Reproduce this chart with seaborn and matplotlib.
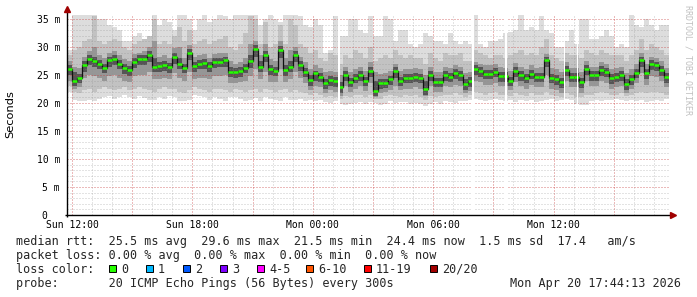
import numpy as np
import pandas as pd
import matplotlib
matplotlib.use("Agg")
import matplotlib.pyplot as plt
import seaborn as sns
from matplotlib.ticker import MultipleLocator, FuncFormatter
from matplotlib.patches import Rectangle

# ---------------- data ----------------
start_hour = 11.75      # Sun 11:45
step_hours = 0.25       # 15 minute bins

median_ms = [
    26.0, 24.0, 24.5, 26.8, 27.8, 27.5, 27.0, 26.3, 27.6, 27.8,
    27.0, 26.2, 25.9, 27.3, 27.8, 27.8, 28.6, 26.5, 26.6, 26.8,
    26.4, 28.2, 27.0, 26.3, 28.9, 26.6, 27.0, 27.1, 26.6, 27.3,
    27.4, 27.6, 25.6, 25.5, 25.7, 26.3, 27.5, 29.6, 26.5, 28.5,
    26.0, 25.8, 29.4, 25.9, 26.5, 28.5, 26.8, 25.6, 24.1, 25.3,
    24.7, 23.5, 24.1, 23.9, 22.8, 25.0, 23.8, 24.5, 25.0, 24.0,
    25.7, 22.2, 23.5, 23.6, 24.2, 25.8, 24.0, 24.5, 24.5, 24.7,
    24.5, 22.5, 25.0, 23.8, 23.8, 25.0, 24.7, 25.3, 25.0, 23.4,
    23.9, 26.0, 25.7, 25.2, 25.2, 25.6, 24.8, 24.8, 24.0, 25.7,
    25.0, 24.5, 25.2, 24.7, 24.7, 27.6, 24.5, 24.3, 23.7, 25.9,
    24.7, 24.7, 23.7, 26.0, 25.0, 25.0, 25.9, 25.6, 24.4, 24.7,
    25.0, 23.4, 24.3, 25.4, 27.6, 25.3, 26.9, 26.7, 25.9, 24.6]

# outer smoke (lightest)
smoke_hi1 = [
    29.5, 36, 36, 36, 36, 36, 35, 35, 34, 33.5,
    33, 31, 31, 32, 32.5, 31.5, 31, 36, 34, 35,
    34.5, 33, 36, 36, 35, 33, 35, 36, 34.5, 35,
    36, 35.5, 35, 36, 36, 36, 36, 36, 34, 35,
    36, 35, 34.5, 36, 36, 36, 35.5, 34, 33.5, 35,
    34, 29, 29.5, 35.5, 32, 32, 35, 35, 33, 32.5,
    35.5, 32, 32, 35.5, 35, 31, 33, 33, 30.5, 30,
    30.5, 32.5, 32, 31, 31, 30.5, 32.5, 31, 30.5, 31,
    30.5, 35.7, 30.5, 30, 31, 31, 31.5, 32.5, 32.7, 33,
    35.7, 33, 33.5, 33, 35.5, 33, 32.5, 30, 30, 31,
    33, 30.5, 35, 35, 31.5, 31.5, 32, 33, 32, 30,
    30.5, 30, 35.7, 34, 33.5, 35, 34, 33, 34, 34]
smoke_lo1 = [
    22.0, 20.5, 20.3, 20.3, 20.6, 20.3, 20.8, 21.0, 21.3, 20.8,
    21.0, 21.5, 21.0, 20.8, 21.2, 20.9, 20.5, 20.5, 21.0, 20.7,
    21.2, 21.0, 20.3, 20.3, 20.5, 21.4, 21.2, 21.0, 20.6, 21.0,
    20.8, 20.4, 21.0, 21.0, 20.8, 20.3, 20.5, 20.9, 20.4, 21.0,
    20.8, 20.5, 20.3, 21.0, 20.6, 20.5, 20.8, 20.4, 20.5, 20.3,
    20.6, 20.2, 20.0, 20.3, 19.8, 19.7, 19.8, 20.0, 20.1, 19.9,
    20.2, 20.0, 19.6, 19.9, 20.3, 20.0, 20.1, 20.2, 19.8, 20.0,
    19.8, 19.5, 19.8, 20.2, 19.9, 20.4, 20.2, 20.0, 20.3, 20.4,
    20.5, 20.7, 20.5, 20.3, 20.5, 20.7, 20.6, 20.4, 20.5, 20.2,
    20.5, 20.4, 20.6, 20.1, 20.3, 20.5, 20.8, 20.4, 20.5, 20.7,
    20.6, 19.8, 19.6, 19.7, 20.4, 20.6, 20.3, 20.5, 20.5, 20.7,
    20.5, 20.4, 20.6, 20.3, 20.5, 20.2, 20.3, 20.6, 20.4, 20.8]

# second smoke layer
smoke_hi2 = [
    28.5, 29.5, 30.0, 31.0, 31.5, 35.5, 31.0, 30.5, 31.0, 31.5,
    31.0, 30.0, 29.5, 30.5, 31.0, 31.5, 32.0, 35.0, 30.5, 31.0,
    30.5, 32.0, 33.5, 31.0, 33.0, 30.5, 31.0, 31.5, 30.5, 31.0,
    31.5, 32.0, 30.0, 29.5, 30.5, 32.5, 35.5, 35.0, 30.5, 34.5,
    30.0, 30.5, 34.0, 30.5, 35.0, 34.0, 30.5, 30.0, 29.0, 29.5,
    28.0, 27.5, 29.0, 28.5, 27.0, 28.5, 28.0, 29.5, 29.0, 28.0,
    30.0, 27.5, 28.0, 28.5, 28.0, 29.5, 28.5, 28.0, 28.5, 28.0,
    28.0, 27.0, 29.0, 28.0, 27.5, 29.0, 28.5, 28.5, 29.0, 27.5,
    27.5, 29.5, 29.0, 28.5, 28.0, 28.5, 28.5, 28.0, 28.5, 29.0,
    29.5, 28.5, 29.0, 28.5, 30.0, 31.5, 28.5, 28.0, 27.5, 29.0,
    28.5, 28.5, 28.0, 29.5, 29.0, 28.5, 29.5, 29.0, 28.5, 28.5,
    28.5, 27.5, 28.5, 29.5, 31.5, 29.5, 30.5, 30.0, 29.5, 28.5]
smoke_lo2 = [
    23.0, 22.0, 21.8, 22.3, 22.5, 22.0, 22.5, 22.8, 22.5, 22.3,
    22.5, 22.8, 22.3, 22.5, 22.8, 22.5, 22.3, 22.0, 22.5, 22.8,
    22.5, 22.5, 22.0, 21.8, 22.3, 22.8, 22.5, 22.3, 22.0, 22.5,
    22.5, 22.3, 22.0, 22.5, 22.3, 22.0, 22.3, 22.5, 22.0, 22.5,
    22.3, 22.0, 22.3, 22.5, 22.0, 22.3, 22.0, 21.8, 21.5, 21.8,
    21.5, 21.0, 21.3, 21.0, 20.8, 21.3, 21.0, 21.5, 21.5, 21.0,
    21.5, 20.8, 20.8, 21.3, 21.5, 21.3, 21.0, 21.5, 21.3, 21.5,
    21.0, 20.5, 21.3, 21.0, 21.3, 21.5, 21.5, 21.8, 21.5, 21.0,
    21.5, 22.0, 21.8, 21.5, 21.8, 22.0, 21.5, 21.5, 21.3, 21.8,
    21.5, 21.3, 21.8, 21.5, 21.5, 22.0, 21.5, 21.3, 21.0, 21.8,
    21.5, 21.0, 21.0, 21.5, 21.5, 21.8, 22.0, 21.8, 21.5, 21.5,
    21.8, 21.3, 21.5, 21.8, 22.0, 21.8, 22.0, 22.0, 21.8, 21.5]

# third smoke layer
smoke_hi3 = [
    27.5, 26.5, 26.3, 28.3, 29.2, 30.0, 28.5, 28.0, 29.0, 29.3,
    28.5, 27.8, 27.5, 28.8, 29.0, 29.3, 30.0, 31.0, 28.3, 28.5,
    28.0, 29.8, 30.0, 28.0, 30.3, 28.3, 28.5, 28.8, 28.0, 28.8,
    29.0, 29.0, 27.5, 27.0, 27.3, 28.0, 30.5, 31.0, 28.5, 30.5,
    27.8, 27.5, 31.0, 28.0, 29.5, 30.0, 28.3, 27.3, 26.0, 26.8,
    26.3, 25.5, 25.8, 25.5, 25.0, 26.5, 25.5, 26.0, 26.5, 25.8,
    27.3, 25.5, 25.2, 25.3, 25.8, 27.0, 25.8, 26.0, 26.0, 26.3,
    26.0, 25.0, 26.5, 25.5, 25.5, 26.5, 26.3, 26.8, 26.5, 25.3,
    25.5, 27.3, 27.0, 26.8, 26.8, 27.0, 26.5, 26.3, 25.8, 27.2,
    26.5, 26.0, 26.8, 26.3, 26.5, 28.8, 26.3, 26.0, 25.5, 27.3,
    26.3, 26.3, 25.5, 27.5, 26.5, 26.5, 27.3, 27.0, 26.0, 26.3,
    26.5, 25.3, 26.0, 27.0, 29.0, 27.0, 28.3, 28.0, 27.5, 26.3]
smoke_lo3 = [
    24.0, 22.5, 22.8, 24.5, 25.0, 24.8, 24.5, 24.0, 24.8, 25.0,
    24.5, 24.0, 23.8, 24.8, 25.0, 25.0, 25.5, 24.3, 24.3, 24.5,
    24.2, 25.3, 24.5, 24.0, 25.5, 24.3, 24.5, 24.5, 24.2, 24.8,
    24.8, 25.0, 23.5, 23.5, 23.7, 24.0, 24.8, 26.0, 24.3, 25.5,
    23.8, 23.7, 26.0, 23.8, 24.2, 25.5, 24.5, 23.5, 22.3, 23.0,
    22.8, 21.8, 22.3, 22.0, 21.3, 23.0, 22.0, 22.5, 23.0, 22.2,
    23.5, 21.0, 21.8, 22.0, 22.3, 23.0, 22.3, 22.5, 22.5, 22.8,
    22.5, 21.2, 23.0, 22.0, 22.0, 23.0, 22.8, 23.3, 23.0, 21.8,
    22.2, 24.0, 23.8, 23.3, 23.3, 23.5, 23.0, 23.0, 22.3, 23.8,
    23.0, 22.5, 23.3, 22.8, 22.8, 25.0, 22.5, 22.3, 21.8, 24.0,
    22.8, 22.8, 21.8, 24.0, 23.0, 23.0, 24.0, 23.5, 22.5, 22.8,
    23.0, 21.8, 22.5, 23.5, 25.3, 23.3, 24.8, 24.7, 24.0, 22.8]

# darkest core
smoke_hi4 = [
    26.7, 25.5, 25.2, 27.5, 28.5, 28.3, 27.7, 27.0, 28.3, 28.5,
    27.7, 27.0, 26.6, 28.0, 28.5, 28.5, 29.3, 28.0, 27.3, 27.5,
    27.1, 28.9, 28.0, 27.0, 29.6, 27.3, 27.7, 27.8, 27.3, 28.0,
    28.1, 28.3, 26.5, 26.2, 26.4, 27.0, 28.5, 30.3, 27.5, 29.2,
    26.7, 26.5, 30.1, 26.8, 27.5, 29.2, 27.5, 26.3, 25.0, 25.7,
    25.4, 24.3, 24.8, 24.6, 23.8, 25.7, 24.5, 25.2, 25.7, 24.7,
    26.4, 24.0, 24.2, 24.3, 24.9, 26.5, 24.7, 25.2, 25.2, 25.4,
    25.2, 24.0, 25.7, 24.5, 24.5, 25.7, 25.4, 26.0, 25.7, 24.3,
    24.6, 26.7, 26.4, 25.9, 25.9, 26.3, 25.5, 25.5, 24.7, 26.4,
    25.7, 25.2, 25.9, 25.4, 25.4, 28.3, 25.2, 25.0, 24.4, 26.6,
    25.4, 25.4, 24.4, 26.7, 25.7, 25.7, 26.6, 26.3, 25.1, 25.4,
    25.7, 24.3, 25.0, 26.1, 28.3, 26.0, 27.6, 27.4, 26.6, 25.3]
smoke_lo4 = [
    25.0, 23.0, 23.5, 25.5, 26.7, 26.5, 26.0, 25.3, 26.5, 26.8,
    26.0, 25.2, 24.9, 26.3, 26.8, 26.8, 27.4, 25.5, 25.6, 25.8,
    25.4, 27.0, 26.0, 25.3, 27.6, 25.6, 26.0, 26.1, 25.6, 26.3,
    26.4, 26.5, 24.6, 24.5, 24.7, 25.3, 26.3, 28.2, 25.5, 27.3,
    25.0, 24.8, 28.0, 24.9, 25.5, 27.3, 25.8, 24.6, 23.1, 24.0,
    23.7, 22.5, 23.1, 22.9, 21.8, 24.0, 22.8, 23.5, 24.0, 23.0,
    24.6, 21.2, 22.5, 22.6, 23.2, 24.5, 23.0, 23.5, 23.5, 23.7,
    23.5, 21.5, 24.0, 22.8, 22.8, 24.0, 23.7, 24.3, 24.0, 22.4,
    22.9, 25.0, 24.7, 24.2, 24.2, 24.6, 23.8, 23.8, 23.0, 24.7,
    24.0, 23.5, 24.2, 23.7, 23.7, 26.4, 23.5, 23.3, 22.7, 24.9,
    23.7, 23.7, 22.7, 25.0, 24.0, 24.0, 24.9, 24.6, 23.4, 23.7,
    24.0, 22.4, 23.3, 24.4, 26.5, 24.3, 25.9, 25.7, 24.9, 23.6]

# unknown (missing) 5-minute samples, in hours since Sun 00:00
gap_hours = [25.275, 31.925, 33.575, 36.5, 37.15]

xtick_hours = [12, 18, 24, 30, 36]
xtick_labels = ["Sun 12:00", "Sun 18:00", "Mon 00:00", "Mon 06:00", "Mon 12:00"]
ytick_values = [0, 5, 10, 15, 20, 25, 30, 35]
ytick_labels = ["0  ", "5 m", "10 m", "15 m", "20 m", "25 m", "30 m", "35 m"]

loss_labels = ["0", "1", "2", "3", "4-5", "6-10", "11-19", "20/20"]
loss_colors = ["#26ff00", "#00b8ff", "#0059ff", "#7e00ff", "#ff00ff",
               "#ff5500", "#ff0000", "#a10000"]

stat_line1 = "median rtt:  25.5 ms avg  29.6 ms max  21.5 ms min  24.4 ms now  1.5 ms sd  17.4   am/s"
stat_line2 = "packet loss: 0.00 % avg  0.00 % max  0.00 % min  0.00 % now"
probe_line = "probe:       20 ICMP Echo Pings (56 Bytes) every 300s"
stamp_text = "Mon Apr 20 17:44:13 2026"

# ---------------- drawing ----------------
sns.set_style("white")
plt.rcParams["font.family"] = ["DejaVu Sans Mono", "DejaVu Sans"]

W, H = 697, 297
fig = plt.figure(figsize=(W / 100, H / 100), dpi=100)
fig.patch.set_facecolor("white")
ax = fig.add_axes([67 / W, (H - 215) / H, 602 / W, 200 / H])
ax.set_facecolor("white")

def px(x, y):
    return x / W, 1 - y / H

n = len(median_ms)
t = start_hour + step_hours * np.arange(n + 1)

def ext(a):
    a = np.asarray(a, dtype=float)
    return np.append(a, a[-1])

layers = [(smoke_lo1, smoke_hi1, "#dddddd"),
          (smoke_lo2, smoke_hi2, "#c2c2c2"),
          (smoke_lo3, smoke_hi3, "#969696"),
          (smoke_lo4, smoke_hi4, "#555555")]
for lo, hi, c in layers:
    ax.fill_between(t, ext(lo), ext(hi), step="post", color=c, lw=0,
                    zorder=1, antialiased=False)

df = pd.DataFrame({"hour": t, "rtt": ext(median_ms)})
sns.lineplot(data=df, x="hour", y="rtt", drawstyle="steps-post",
             color="#111111", lw=0.9, ax=ax, zorder=3, legend=False)
ax.hlines(median_ms, t[:-1], t[1:], colors=loss_colors[0], lw=1.8,
          zorder=4, capstyle="butt")

for g in gap_hours:
    ax.axvspan(g, g + 5 / 60, color="white", lw=0, zorder=4.5)

ax.set_xlim(start_hour, start_hour + n * step_hours)
ax.set_ylim(0, 35.71)
ax.set_xlabel("")
ax.set_ylabel("")

ax.xaxis.set_major_locator(MultipleLocator(3))
ax.xaxis.set_minor_locator(MultipleLocator(1))
ax.yaxis.set_major_locator(MultipleLocator(5))
ax.yaxis.set_minor_locator(MultipleLocator(1))
xmap = dict(zip(xtick_hours, xtick_labels))
ymap = dict(zip(ytick_values, ytick_labels))
ax.xaxis.set_major_formatter(FuncFormatter(lambda v, p: xmap.get(int(round(v)), "")))
ax.yaxis.set_major_formatter(FuncFormatter(lambda v, p: ymap.get(int(round(v)), "")))

ax.set_axisbelow(False)
ax.grid(which="minor", color="#909090", alpha=0.5, ls=(0, (1, 2)), lw=0.72)
ax.grid(which="major", color="#c83c3c", alpha=0.7, ls=(0, (1, 2)), lw=0.72)
ax.tick_params(axis="both", which="both", length=0, labelsize=7, colors="black")
ax.tick_params(axis="y", pad=5.0)
ax.tick_params(axis="x", pad=3.6)
for s in ax.spines.values():
    s.set_visible(False)

# axis lines with arrows
ax.plot([0, 0], [-0.012, 1.025], transform=ax.transAxes, color="black",
        lw=1.0, clip_on=False, zorder=6, solid_capstyle="butt")
ax.plot([-0.004, 1.004], [0, 0], transform=ax.transAxes, color="black",
        lw=1.0, clip_on=False, zorder=6, solid_capstyle="butt")
ax.plot([0], [1.028], marker="^", ms=4.2, color="#a00000", mec="#a00000",
        transform=ax.transAxes, clip_on=False, zorder=7)
ax.plot([1.0065], [0], marker=">", ms=4.2, color="#a00000", mec="#a00000",
        transform=ax.transAxes, clip_on=False, zorder=7)

# y label and watermark
fig.text(*px(10.5, 114), "Seconds", rotation=90, ha="center", va="center",
         fontsize=8.2, family="DejaVu Sans", color="black")
fig.text(*px(688, 60), "RRDTOOL / TOBI OETIKER", rotation=270, ha="center",
         va="center", fontsize=6.0, color="#c0c0c0")

fs = 8.45
fig.text(*px(16, 245), stat_line1, fontsize=fs, va="baseline", ha="left")
fig.text(*px(16, 259), stat_line2, fontsize=fs, va="baseline", ha="left")

fig.text(*px(16, 273), "loss color:", fontsize=fs, va="baseline", ha="left")
box_x = [109, 146, 183, 220, 257, 306, 364, 430]
for bx, lab, col in zip(box_x, loss_labels, loss_colors):
    fig.patches.append(Rectangle(px(bx, 272), 7 / W, 7 / H, transform=fig.transFigure,
                                 facecolor=col, edgecolor="black", lw=0.7, figure=fig))
    fig.text(*px(bx + 12, 273), lab, fontsize=fs, va="baseline", ha="left")

fig.text(*px(16, 287), probe_line, fontsize=fs, va="baseline", ha="left")
fig.text(*px(681, 287), stamp_text, fontsize=fs, va="baseline", ha="right")

fig.savefig("out.png", dpi=100, facecolor="white")
